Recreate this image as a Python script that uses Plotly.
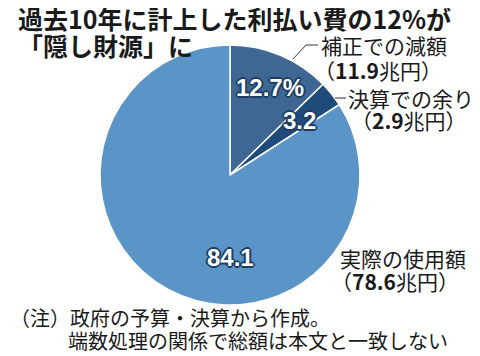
import plotly.graph_objects as go

categories = ["補正での減額", "決算での余り", "実際の使用額"]
shares = [12.7, 3.2, 84.1]
amounts = [11.9, 2.9, 78.6]
share_labels = ["12.7%", "3.2", "84.1"]
colors = ["#3e6794", "#1e4b7a", "#5b95c8"]

OFF = 8  # page body margin
FW, FH = 480 - OFF, 356 - OFF
FONT = "Noto Sans CJK JP"
cx, cy, r = 230, 175, 130


def px(x, y):
    return (x - OFF) / FW, 1 - (y - OFF) / FH


x0, y1 = px(cx - r, cy - r)
x1, y0 = px(cx + r, cy + r)

fig = go.Figure(go.Pie(
    labels=categories, values=shares, sort=False, direction="clockwise",
    rotation=0, textinfo="none", hoverinfo="skip",
    marker=dict(colors=colors, line=dict(color="white", width=1.5)),
    domain=dict(x=[x0, x1], y=[y0, y1]),
    showlegend=False,
))

outline = "#1d3d62"
shadow = ",".join(f"{dx}px {dy}px 0 {outline}" for dx, dy in
                  [(-1, -1), (1, -1), (-1, 1), (1, 1), (0, -2), (0, 2), (-2, 0), (2, 0)])

anns = []
for txt, (x, y) in zip(share_labels, [(270, 88), (299, 121), (230, 257)]):
    ax, ay = px(x, y)
    anns.append(dict(x=ax, y=ay, xref="paper", yref="paper", text=f"<b>{txt}</b>",
                     showarrow=False, xanchor="center", yanchor="middle",
                     font=dict(family="Liberation Sans", size=24, color="white", shadow=shadow)))

for txt, y in [("過去10年に計上した利払い費の12%が", 18), ("「隠し財源」に", 45)]:
    ax, ay = px(16, y)
    anns.append(dict(x=ax, y=ay, xref="paper", yref="paper", text=f"<b>{txt}</b>",
                     showarrow=False, xanchor="left", yanchor="middle",
                     font=dict(family=FONT, size=25, color="#1a1a1a")))

ext = [(319, 45, 312, 70), (346, 98, 349, 120), (338, 258, 329, 281)]
for cat, amt, (xa, ya, xb, yb) in zip(categories, amounts, ext):
    ax, ay = px(xa, ya)
    anns.append(dict(x=ax, y=ay, xref="paper", yref="paper", text=cat, showarrow=False,
                     xanchor="left", yanchor="middle",
                     font=dict(family=FONT, size=21, color="#1a1a1a")))
    ax, ay = px(xb, yb)
    anns.append(dict(x=ax, y=ay, xref="paper", yref="paper",
                     text=f"（<b>{amt}</b>兆円）", showarrow=False,
                     xanchor="left", yanchor="middle",
                     font=dict(family=FONT, size=21, color="#1a1a1a")))

for txt, x, y in [("（注）政府の予算・決算から作成。", 8, 317), ("端数処理の関係で総額は本文と一致しない", 66, 340)]:
    ax, ay = px(x, y)
    anns.append(dict(x=ax, y=ay, xref="paper", yref="paper", text=txt, showarrow=False,
                     xanchor="left", yanchor="middle",
                     font=dict(family=FONT, size=20, color="#1a1a1a")))

shapes = [
    dict(type="path", xref="paper", yref="paper",
         path="M {} {} L {} {} L {} {}".format(*px(293, 59), *px(306, 45), *px(318, 45)),
         line=dict(color="#333", width=1)),
    dict(type="line", xref="paper", yref="paper",
         x0=px(335, 98)[0], y0=px(335, 98)[1], x1=px(346, 98)[0], y1=px(346, 98)[1],
         line=dict(color="#333", width=1)),
]

fig.update_layout(width=FW, height=FH, margin=dict(l=0, r=0, t=0, b=0),
                  paper_bgcolor="white", plot_bgcolor="white",
                  annotations=anns, shapes=shapes)
fig.write_html("out.html")
